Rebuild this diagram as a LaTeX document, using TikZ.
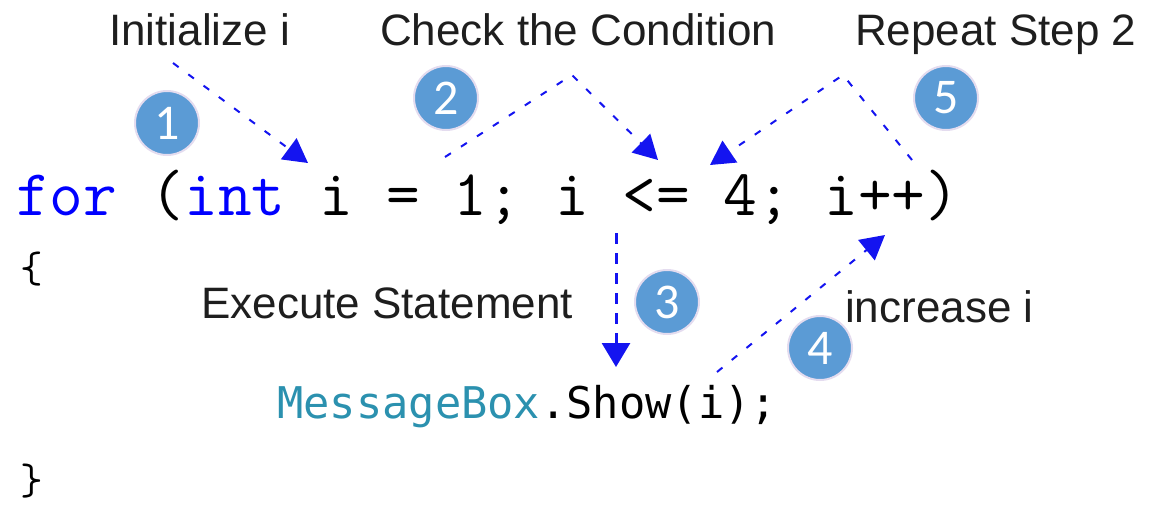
\documentclass[tikz,border=0pt]{standalone}
\usepackage{fontspec}
\setmainfont{Liberation Sans}
\newfontfamily\callfont{DejaVu Sans Mono}
\newfontfamily\ballfont{Carlito}
\usetikzlibrary{arrows.meta}
\definecolor{ball}{HTML}{5B9BD5}
\definecolor{halo}{HTML}{E4DCEF}
\definecolor{kw}{HTML}{0000FF}
\definecolor{type}{HTML}{2B91AF}
\definecolor{ink}{HTML}{1E1E1E}
\definecolor{flowblue}{HTML}{1414F0}
\tikzset{
    numball/.style={circle, fill=ball, draw=halo, line width=2pt, minimum size=64pt,
        inner sep=0pt, text=white, font=\ballfont\fontsize{50}{50}\selectfont},
    tag/.style={anchor=base west, inner sep=0pt, text=ink, font=\fontsize{44}{48}\selectfont},
    code/.style={anchor=base west, inner sep=0pt, font=\ttfamily\fontsize{65.4}{68}\selectfont},
    brace/.style={anchor=base west, inner sep=0pt, font=\ttfamily\fontsize{44}{48}\selectfont},
    callcode/.style={anchor=base west, inner sep=0pt, font=\callfont\fontsize{43.7}{48}\selectfont},
    flow/.style={flowblue, line width=2pt, dash pattern=on 7pt off 12pt,
        -{Triangle[length=24pt,width=26pt]}},
    flowdash/.style={flowblue, line width=3pt, dash pattern=on 11pt off 9pt,
        -{Triangle[length=24pt,width=28pt]}}
}

\begin{document}
\begin{tikzpicture}[x=1pt, y=-1pt]
    \useasboundingbox (0,0) rectangle (1161,509);

    \node[tag] (init) at (109,45) {Initialize i};
    \node[tag] (check) at (380,45) {Check the Condition};
    \node[tag] (repeat) at (855,45) {Repeat Step 2};
    \node[tag] (exec) at (201,318) {Execute Statement};
    \node[tag] (incr) at (845,322) {increase i};

    \node[code] (forline) at (16,215) {\textcolor{kw}{for} (\textcolor{kw}{int} i = 1; i <= 4; i++)};
    \node[brace] (open) at (20,282) {\{};
    \node[callcode] (body) at (277,418) {\textcolor{type}{MessageBox}.Show(i);};
    \node[brace] (close) at (20,494) {\}};

    \node[numball] (one) at (167,123) {1};
    \node[numball] (two) at (446,98) {2};
    \node[numball] (three) at (667,302) {3};
    \node[numball] (four) at (820,348) {4};
    \node[numball] (five) at (946,98) {5};

    \coordinate (initfrom) at (173,63);
    \coordinate (initto) at (308,163);
    \coordinate (checkfrom) at (445,157);
    \coordinate (checktop) at (572,75);
    \coordinate (checkto) at (658,160);
    \coordinate (execfrom) at (616,233);
    \coordinate (execto) at (616,367);
    \coordinate (incrfrom) at (717,372);
    \coordinate (incrto) at (885,235);
    \coordinate (repfrom) at (912,160);
    \coordinate (reptop) at (843,75);
    \coordinate (repto) at (710,165);

    \draw[flow] (initfrom) -- (initto);
    \draw[flow] (checkfrom) -- (checktop) -- (checkto);
    \draw[flowdash] (execfrom) -- (execto);
    \draw[flow] (incrfrom) -- (incrto);
    \draw[flow] (repfrom) -- (reptop) -- (repto);
\end{tikzpicture}
\end{document}
